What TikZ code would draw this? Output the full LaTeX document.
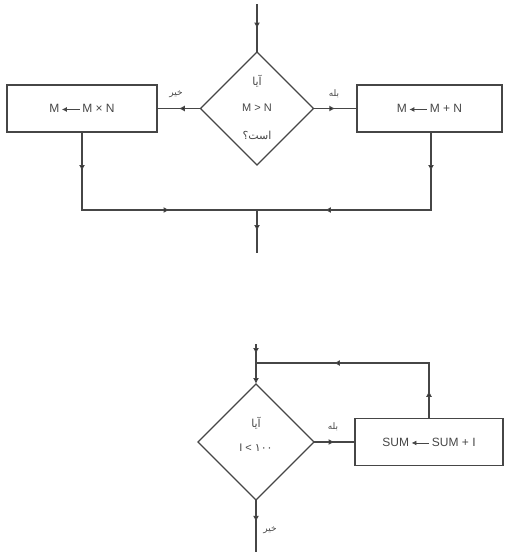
\documentclass[tikz,border=0pt]{standalone}
\usepackage{fontspec}
\setmainfont{Liberation Sans}
\newfontfamily\arabicfont[Script=Arabic]{DejaVu Sans}
\TeXXeTstate=1
\usetikzlibrary{shapes.geometric,arrows.meta,decorations.markings}
\definecolor{lc}{RGB}{70,70,70}
\newcommand\asgarrow{\tikz[baseline=-0.5ex,x=1pt,y=1pt]\draw[lc,line width=0.9pt,{Latex[length=5pt,width=5pt]}-] (0,0) -- (18,0);}
\begin{document}
\begin{tikzpicture}[x=1pt,y=-1pt,
  box/.style={draw=lc, rectangle, line width=1.3pt, minimum height=47pt, inner sep=0pt, outer sep=0pt, font=\fontsize{12}{14}\selectfont, text=lc},
  dia/.style={draw=lc, diamond, line width=1.3pt, minimum width=#1, minimum height=#1, inner sep=0pt, outer sep=0pt},
  dtxt/.style={font=\fontsize{11}{13}\selectfont, text=lc, inner sep=0pt},
  lbl/.style={font=\arabicfont\fontsize{9}{11}\selectfont, text=lc, inner sep=1pt},
  flow/.style={draw=lc, line width=1.2pt, line cap=rect},
  mid/.style={postaction={decorate}, decoration={markings, mark=at position #1 with {\arrow{Latex[length=6pt,width=6pt]}}}},
  mid/.default=0.5,
  endtip/.style={-{Latex[length=6pt,width=6pt]}}
]
\useasboundingbox (0,0) rectangle (507,552);
% ---------- top part ----------
\node[dia=113pt] (d1) at (257,108.5) {};
\node[box, minimum width=150pt] (bl) at (82,108.5) {M\,\asgarrow\,M × N};
\node[box, minimum width=145pt] (br) at (429.5,108.5) {M\,\asgarrow\,M + N};
\node[dtxt] (q1a) at (257,81) {\arabicfont\beginR آیا\endR};
\node[dtxt] (q1b) at (257,108) {M > N};
\node[dtxt] (q1c) at (257,135) {\arabicfont\beginR است؟\endR};
\node[lbl] (no1) at (176,94) {\beginR خیر\endR};
\node[lbl] (yes1) at (334,94) {\beginR بله\endR};
\coordinate (s1) at (257,5);
\coordinate (j1) at (82,210);
\coordinate (j2) at (431,210);
\coordinate (jm) at (257,210);
\coordinate (e1) at (257,252);
\draw[flow,mid] (s1) -- (d1.north);
\draw[flow,mid] (d1.west) -- (bl.east);
\draw[flow,mid] (d1.east) -- (br.west);
\draw[flow,mid] (bl.south) -- (j1);
\draw[flow,mid] (br.south -| j2) -- (j2);
\draw[flow,mid] (j1) -- (jm);
\draw[flow,mid=0.61] (j2) -- (jm);
\draw[flow,mid] (jm) -- (e1);
% ---------- bottom part ----------
\node[dia=116pt] (d2) at (256,442) {};
\node[box, minimum width=148pt] (b2) at (429,442) {SUM\,\asgarrow\,SUM + I};
\node[dtxt] (q2a) at (256,423) {\arabicfont\beginR آیا\endR};
\node[dtxt] (q2b) at (256,448) {I < {\arabicfont ۱۰۰}};
\node[lbl] (yes2) at (333,427) {\beginR بله\endR};
\node[lbl] (no2) at (270,530) {\beginR خیر\endR};
\coordinate (s2) at (256,345);
\coordinate (j3) at (256,363);
\coordinate (j4) at (429,363);
\coordinate (e2) at (256,552);
\draw[flow,mid] (s2) -- (j3);
\draw[flow,endtip] (j3) -- (d2.north);
\draw[flow,mid] (b2.north) -- (j4);
\draw[flow,mid=0.55] (j4) -- (j3);
\draw[flow,mid] (d2.east) -- (b2.west);
\draw[flow,mid=0.42] (d2.south) -- (e2);
\end{tikzpicture}
\end{document}
